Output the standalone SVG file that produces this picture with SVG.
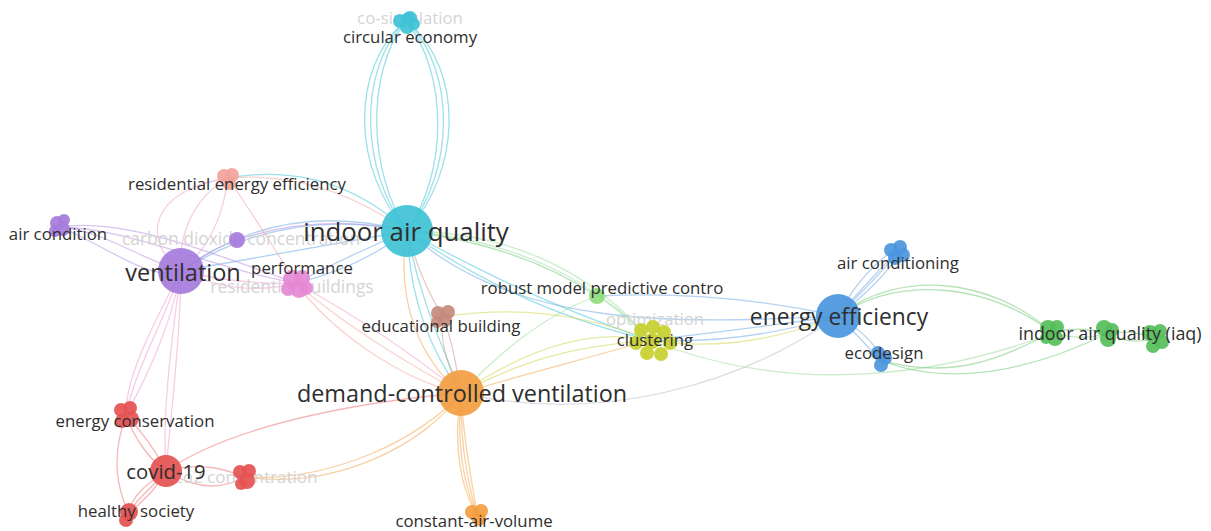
<svg xmlns="http://www.w3.org/2000/svg" width="1211" height="531" viewBox="0 0 1211 531">
  <style>
    .e { fill: none; stroke-width: 1.3; stroke-opacity: 0.5; stroke-linecap: round; }
    .cy { stroke: #3cc3d6; }
    .bl { stroke: #6aa6e4; }
    .pu { stroke: #b48ae0; }
    .pk { stroke: #ee9ccc; }
    .sa { stroke: #f2a8a0; }
    .or { stroke: #f5a448; }
    .rd { stroke: #ec7070; }
    .ye { stroke: #d2d648; }
    .gr { stroke: #6cc870; }
    .lg { stroke: #98dc98; }
    .br { stroke: #c99a88; }
    .gy { stroke: #b8c0cc; }
    .lbl { font-family: "Open Sans", "Liberation Sans", sans-serif; fill: #2e2e2e; text-anchor: middle; }
    .faint { font-family: "Open Sans", "Liberation Sans", sans-serif; fill: #d4d4d4; text-anchor: middle; }
    .s14 { font-size: 16.8px; }
    .c-cy { fill: #3fc2d6; }
    .c-pu { fill: #a57bdb; }
    .c-pk { fill: #e689d4; }
    .c-sa { fill: #f3a39b; }
    .c-br { fill: #c48a7c; }
    .c-lg { fill: #8fdc7c; }
    .c-ye { fill: #c7cf2c; }
    .c-bl { fill: #4a96de; }
    .c-gr { fill: #55be5a; }
    .c-or { fill: #f39d40; }
    .c-rd { fill: #e55252; }
    circle { fill-opacity: 0.92; }
  </style>

  <rect width="1211" height="531" fill="#ffffff"/>

  <!-- links between keywords -->
  <g id="connectors">
    <!-- indoor air quality <-> circular economy -->
    <path class="e cy" d="M407,231 C352,170 350,70 404,22"/>
    <path class="e cy" d="M407,231 C360,170 358,72 404,22"/>
    <path class="e cy" d="M407,231 C368,170 366,74 405,22"/>
    <path class="e cy" d="M407,231 C462,170 464,70 408,22"/>
    <path class="e cy" d="M407,231 C455,170 456,72 408,22"/>
    <path class="e cy" d="M407,231 C448,172 448,74 407,22"/>
    <!-- indoor air quality <-> west -->
    <path class="e bl" d="M181,271 Q280,198 407,231"/>
    <path class="e bl" d="M181,271 Q285,206 407,231"/>
    <path class="e bl" d="M181,271 Q300,250 407,231"/>
    <path class="e cy" d="M228,178 Q330,160 407,231"/>
    <path class="e sa" d="M228,178 Q320,170 407,231"/>
    <path class="e bl" d="M296,283 Q360,268 407,231"/>
    <path class="e bl" d="M296,283 Q350,255 407,231"/>
    <path class="e pu" d="M237,240 Q320,212 407,231"/>
    <!-- indoor air quality <-> demand-controlled ventilation -->
    <path class="e cy" d="M407,231 C420,300 440,340 461,393"/>
    <path class="e cy" d="M407,231 C410,300 430,350 461,393"/>
    <path class="e or" d="M407,231 C395,300 420,360 461,393"/>
    <path class="e br" d="M407,231 Q420,280 443,317"/>
    <!-- indoor air quality <-> east -->
    <path class="e gr" d="M407,231 Q520,245 597,296"/>
    <path class="e lg" d="M407,231 C520,232 600,280 650,340"/>
    <path class="e lg" d="M407,231 C520,240 600,285 650,340"/>
    <path class="e cy" d="M407,231 Q530,300 650,340"/>
    <path class="e cy" d="M407,231 Q520,310 650,340"/>
    <path class="e bl" d="M407,231 C520,335 700,322 838,316"/>
    <!-- ventilation cluster -->
    <path class="e pu" d="M60,227 C100,230 140,258 181,271"/>
    <path class="e pu" d="M60,227 C110,248 150,282 181,271"/>
    <path class="e pu" d="M60,227 C120,218 200,248 296,283"/>
    <path class="e pu" d="M60,227 C130,228 210,268 296,283"/>
    <path class="e pu" d="M181,271 Q210,250 237,240"/>
    <path class="e pk" d="M181,271 Q240,298 296,283"/>
    <path class="e pk" d="M181,271 Q240,285 296,283"/>
    <path class="e pk" d="M228,178 C190,200 178,240 181,271"/>
    <path class="e pk" d="M228,178 Q220,240 181,271"/>
    <path class="e pk" d="M228,178 C150,190 140,240 181,271"/>
    <path class="e sa" d="M228,178 Q262,228 296,283"/>
    <path class="e pk" d="M181,271 C160,330 135,370 126,415"/>
    <path class="e pk" d="M181,271 C150,330 125,380 126,415"/>
    <path class="e pk" d="M181,271 C170,330 145,380 126,415"/>
    <path class="e pk" d="M181,271 C170,350 162,420 166,471"/>
    <path class="e pk" d="M181,271 C180,350 170,420 166,471"/>
    <!-- performance <-> demand-controlled ventilation -->
    <path class="e pk" d="M296,283 C360,318 420,360 461,393"/>
    <path class="e sa" d="M296,283 C350,330 420,370 461,393"/>
    <path class="e sa" d="M296,283 C330,330 400,380 461,393"/>
    <!-- demand-controlled ventilation -->
    <path class="e or" d="M461,393 C452,450 462,490 477,515"/>
    <path class="e or" d="M461,393 C456,450 466,490 477,515"/>
    <path class="e or" d="M461,393 C460,450 470,490 477,515"/>
    <path class="e or" d="M461,393 C464,450 474,490 477,515"/>
    <path class="e rd" d="M461,393 C380,400 240,420 166,471"/>
    <path class="e or" d="M461,393 C420,440 330,482 245,477"/>
    <path class="e or" d="M461,393 C425,445 335,490 245,477"/>
    <path class="e br" d="M461,393 C445,360 440,340 443,317"/>
    <path class="e br" d="M461,393 C455,360 452,340 443,317"/>
    <path class="e ye" d="M461,393 C540,340 600,330 650,340"/>
    <path class="e ye" d="M461,393 C540,350 600,345 650,340"/>
    <path class="e or" d="M461,393 C540,370 600,355 650,340"/>
    <path class="e lg" d="M461,393 Q530,320 597,296"/>
    <path class="e gy" d="M461,393 C600,425 740,385 838,316"/>
    <path class="e ye" d="M443,317 Q550,300 650,340"/>
    <!-- clustering / energy efficiency -->
    <path class="e bl" d="M650,340 Q740,345 838,316"/>
    <path class="e bl" d="M650,340 Q740,330 838,316"/>
    <path class="e ye" d="M650,340 Q740,355 838,316"/>
    <path class="e lg" d="M597,296 Q620,310 650,340"/>
    <path class="e bl" d="M597,296 Q720,290 838,316"/>
    <path class="e lg" d="M650,340 C800,400 950,372 1053,333"/>
    <path class="e bl" d="M838,316 C858,292 880,270 896,252"/>
    <path class="e bl" d="M838,316 C862,292 884,270 898,252"/>
    <path class="e bl" d="M838,316 C866,294 888,272 900,253"/>
    <path class="e bl" d="M838,316 C852,288 872,266 892,251"/>
    <path class="e bl" d="M838,316 Q862,340 880,360"/>
    <path class="e bl" d="M838,316 Q870,335 882,358"/>
    <path class="e gr" d="M838,316 C900,268 990,278 1052,332"/>
    <path class="e gr" d="M838,316 C900,275 985,283 1052,332"/>
    <path class="e gr" d="M880,360 C950,380 1000,360 1052,332"/>
    <path class="e gr" d="M880,360 C960,392 1050,362 1108,333"/>
    <path class="e gr" d="M1052,332 Q1080,342 1108,333"/>
    <path class="e gr" d="M1052,332 Q1080,326 1108,333"/>
    <path class="e gr" d="M1108,333 Q1130,346 1156,338"/>
    <path class="e gr" d="M1108,333 Q1132,330 1156,338"/>
    <!-- covid-19 cluster -->
    <path class="e rd" d="M126,415 C135,440 150,460 166,471"/>
    <path class="e rd" d="M126,415 C145,435 158,455 166,471"/>
    <path class="e rd" d="M166,471 C150,490 135,500 129,514"/>
    <path class="e rd" d="M166,471 C155,492 140,502 129,514"/>
    <path class="e rd" d="M166,471 C145,485 130,498 129,514"/>
    <path class="e rd" d="M166,471 C200,462 222,468 245,477"/>
    <path class="e rd" d="M166,471 C200,492 225,488 245,477"/>
    <path class="e rd" d="M126,415 C110,460 118,490 129,514"/>
  </g>

  <!-- keyword nodes -->
  <g id="co-simulation">
    <text class="faint s14" x="410" y="24">co-simulation</text>
    <circle class="c-cy" cx="408" cy="18" r="6"/>
  </g>
  <g id="carbon-dioxide-concentration">
    <text class="faint" font-size="17.4" x="241" y="245">carbon dioxide concentration</text>
    <circle class="c-pu" cx="237" cy="240" r="8"/>
  </g>
  <g id="residential-buildings">
    <text class="faint" font-size="17.4" x="292" y="293">residential buildings</text>
  </g>
  <g id="optimization">
    <text class="faint s14" x="655" y="325">optimization</text>
  </g>
  <g id="co2-concentration">
    <text class="faint" font-size="17" x="246" y="483">co2 concentration</text>
    <circle class="c-rd" cx="240" cy="472" r="7"/>
    <circle class="c-rd" cx="249" cy="471" r="7"/>
    <circle class="c-rd" cx="247" cy="481" r="8"/>
    <circle class="c-rd" cx="241" cy="484" r="6"/>
  </g>

  <g id="circular-economy">
    <circle class="c-cy" cx="400" cy="21" r="7"/>
    <circle class="c-cy" cx="410" cy="18" r="7"/>
    <circle class="c-cy" cx="407" cy="27" r="7"/>
    <circle class="c-cy" cx="414" cy="24" r="6"/>
    <text class="lbl s14" x="410" y="43">circular economy</text>
  </g>
  <g id="residential-energy-efficiency">
    <circle class="c-sa" cx="224" cy="176" r="7"/>
    <circle class="c-sa" cx="232" cy="175" r="7"/>
    <circle class="c-sa" cx="229" cy="183" r="7"/>
    <text class="lbl s14" x="237" y="190">residential energy efficiency</text>
  </g>
  <g id="air-condition">
    <circle class="c-pu" cx="57" cy="223" r="7"/>
    <circle class="c-pu" cx="64" cy="220" r="6"/>
    <circle class="c-pu" cx="63" cy="229" r="7"/>
    <circle class="c-pu" cx="55" cy="231" r="6"/>
    <text class="lbl s14" x="58" y="240">air condition</text>
  </g>
  <g id="ventilation">
    <circle class="c-pu" cx="181" cy="271" r="23"/>
    <text class="lbl" font-size="23.5" x="183" y="281">ventilation</text>
  </g>
  <g id="performance">
    <circle class="c-pk" cx="292" cy="279" r="9"/>
    <circle class="c-pk" cx="302" cy="278" r="8"/>
    <circle class="c-pk" cx="299" cy="289" r="9"/>
    <circle class="c-pk" cx="288" cy="289" r="7"/>
    <circle class="c-pk" cx="306" cy="288" r="7"/>
    <text class="lbl s14" x="302" y="274">performance</text>
  </g>
  <g id="indoor-air-quality">
    <circle class="c-cy" cx="407" cy="231" r="26"/>
    <text class="lbl" font-size="25.8" x="406" y="241">indoor air quality</text>
  </g>
  <g id="educational-building">
    <circle class="c-br" cx="438" cy="313" r="7"/>
    <circle class="c-br" cx="448" cy="312" r="7"/>
    <circle class="c-br" cx="445" cy="320" r="7"/>
    <circle class="c-br" cx="437" cy="322" r="6"/>
    <text class="lbl s14" x="441" y="332">educational building</text>
  </g>
  <g id="robust-model-predictive-contro">
    <circle class="c-lg" cx="597" cy="296" r="8"/>
    <text class="lbl s14" x="602" y="294">robust model predictive contro</text>
  </g>
  <g id="clustering">
    <circle class="c-ye" cx="641" cy="330" r="7"/>
    <circle class="c-ye" cx="653" cy="327" r="7"/>
    <circle class="c-ye" cx="664" cy="332" r="7"/>
    <circle class="c-ye" cx="670" cy="343" r="7"/>
    <circle class="c-ye" cx="661" cy="354" r="7"/>
    <circle class="c-ye" cx="647" cy="353" r="7"/>
    <circle class="c-ye" cx="636" cy="343" r="7"/>
    <circle class="c-ye" cx="652" cy="341" r="8"/>
    <text class="lbl s14" x="655" y="346">clustering</text>
  </g>
  <g id="energy-efficiency">
    <circle class="c-bl" cx="838" cy="316" r="22"/>
    <text class="lbl" font-size="22.8" x="839" y="325">energy efficiency</text>
  </g>
  <g id="air-conditioning">
    <circle class="c-bl" cx="891" cy="250" r="7"/>
    <circle class="c-bl" cx="900" cy="247" r="7"/>
    <circle class="c-bl" cx="903" cy="255" r="7"/>
    <circle class="c-bl" cx="895" cy="258" r="7"/>
    <text class="lbl s14" x="898" y="269">air conditioning</text>
  </g>
  <g id="ecodesign">
    <circle class="c-bl" cx="878" cy="353" r="7"/>
    <circle class="c-bl" cx="885" cy="358" r="7"/>
    <circle class="c-bl" cx="881" cy="365" r="7"/>
    <text class="lbl s14" x="884" y="359">ecodesign</text>
  </g>
  <g id="indoor-air-quality-iaq">
    <circle class="c-gr" cx="1048" cy="328" r="8"/>
    <circle class="c-gr" cx="1057" cy="327" r="7"/>
    <circle class="c-gr" cx="1055" cy="338" r="8"/>
    <circle class="c-gr" cx="1046" cy="338" r="6"/>
    <circle class="c-gr" cx="1104" cy="328" r="8"/>
    <circle class="c-gr" cx="1112" cy="330" r="7"/>
    <circle class="c-gr" cx="1108" cy="339" r="8"/>
    <circle class="c-gr" cx="1150" cy="333" r="8"/>
    <circle class="c-gr" cx="1160" cy="331" r="7"/>
    <circle class="c-gr" cx="1162" cy="342" r="7"/>
    <circle class="c-gr" cx="1153" cy="346" r="7"/>
    <text class="lbl" font-size="17.9" x="1110" y="340">indoor air quality (iaq)</text>
  </g>
  <g id="demand-controlled-ventilation">
    <circle class="c-or" cx="461" cy="393" r="23"/>
    <text class="lbl" font-size="23.4" x="462" y="402">demand-controlled ventilation</text>
  </g>
  <g id="constant-air-volume">
    <circle class="c-or" cx="472" cy="512" r="7"/>
    <circle class="c-or" cx="481" cy="511" r="7"/>
    <circle class="c-or" cx="479" cy="519" r="7"/>
    <text class="lbl s14" x="474" y="527">constant-air-volume</text>
  </g>
  <g id="energy-conservation">
    <circle class="c-rd" cx="121" cy="410" r="7"/>
    <circle class="c-rd" cx="130" cy="408" r="7"/>
    <circle class="c-rd" cx="131" cy="419" r="8"/>
    <circle class="c-rd" cx="122" cy="421" r="7"/>
    <text class="lbl s14" x="135" y="427">energy conservation</text>
  </g>
  <g id="covid-19">
    <circle class="c-rd" cx="166" cy="471" r="16"/>
    <text class="lbl" font-size="20.3" x="166" y="479">covid-19</text>
  </g>
  <g id="healthy-society">
    <circle class="c-rd" cx="129" cy="512" r="9"/>
    <circle class="c-rd" cx="126" cy="520" r="7"/>
    <text class="lbl s14" x="136" y="517">healthy society</text>
  </g>
</svg>
